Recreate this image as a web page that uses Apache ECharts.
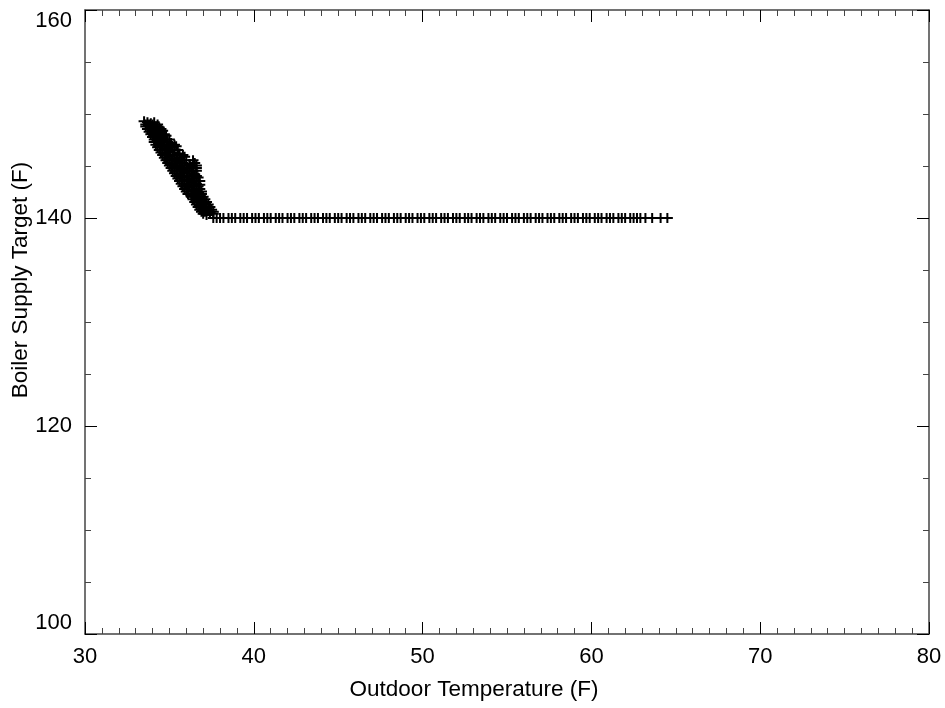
<!DOCTYPE html>
<html>
<head>
<meta charset="utf-8">
<script src="https://cdn.jsdelivr.net/npm/echarts@6/dist/echarts.min.js"></script>
<style>html,body{margin:0;padding:0;background:#fff;}#c{width:945px;height:708px;}</style>
</head>
<body>
<div id="c"></div>
<script>
// ---- data ----
var xTitle = 'Outdoor Temperature (F)';
var yTitle = 'Boiler Supply Target (F)';
var xTicks = [30, 40, 50, 60, 70, 80];
var yTicks = [100, 120, 140, 160];

// reset (sloped) part of the curve
var descentTemp = [
  33.5, 33.7, 33.9, 34.1,
  33.6, 33.8, 34.0, 34.2, 34.4,
  33.8, 34.0, 34.2, 34.4, 34.6,
  34.0, 34.2, 34.4, 34.6, 34.8,
  34.1, 34.4, 34.6, 34.9, 35.1,
  34.3, 34.6, 34.8, 35.1, 35.4,
  34.5, 34.8, 35.0, 35.3, 35.6,
  34.7, 35.0, 35.3, 35.6, 35.9,
  34.9, 35.2, 35.5, 35.8, 36.2, 36.5,
  35.1, 35.4, 35.7, 36.0, 36.3, 36.6,
  35.3, 35.6, 35.9, 36.2, 36.5,
  35.5, 35.8, 36.1, 36.4, 36.7,
  35.7, 36.0, 36.3, 36.6, 36.8,
  35.9, 36.2, 36.5, 36.8,
  36.1, 36.4, 36.7, 36.9,
  36.4, 36.6, 36.9, 37.1,
  36.6, 36.8, 37.1, 37.3,
  36.8, 37.1, 37.3, 37.5,
  37.0, 37.2, 37.4, 37.6,
  33.6, 33.8, 34.0, 34.3,
  33.7, 33.9, 34.1, 34.3, 34.5,
  33.9, 34.1, 34.3, 34.5, 34.7,
  34.1, 34.3, 34.5, 34.7, 35.0,
  34.2, 34.5, 34.7, 35.0, 35.3,
  34.4, 34.7, 34.9, 35.2, 35.5,
  34.6, 34.9, 35.2, 35.5, 35.8,
  34.8, 35.1, 35.4, 35.7, 36.0, 36.4,
  35.0, 35.3, 35.6, 35.9, 36.2, 36.6,
  35.2, 35.5, 35.8, 36.1, 36.4, 36.6,
  35.4, 35.7, 36.0, 36.3, 36.6,
  35.6, 35.9, 36.2, 36.5, 36.8,
  35.8, 36.1, 36.4, 36.7,
  36.0, 36.3, 36.6, 36.9,
  36.3, 36.5, 36.8, 37.0,
  36.5, 36.7, 37.0, 37.2,
  36.7, 37.0, 37.2, 37.4,
  36.9, 37.1, 37.4, 37.6
];
var descentTarget = [
  149.3, 149.2, 149.1, 149.2,
  148.8, 148.9, 148.7, 148.8, 148.7,
  148.3, 148.4, 148.2, 148.3, 148.4,
  147.8, 147.9, 147.7, 147.8, 147.9,
  147.3, 147.2, 147.4, 147.3, 147.2,
  146.8, 146.9, 146.7, 146.8, 146.9,
  146.3, 146.2, 146.4, 146.3, 146.2,
  145.8, 145.9, 145.7, 145.8, 145.9,
  145.3, 145.2, 145.4, 145.3, 145.2, 145.3,
  144.8, 144.9, 144.7, 144.8, 144.9, 144.8,
  144.3, 144.2, 144.4, 144.3, 144.2,
  143.8, 143.9, 143.7, 143.8, 143.9,
  143.3, 143.2, 143.4, 143.3, 143.2,
  142.8, 142.9, 142.7, 142.8,
  142.3, 142.2, 142.4, 142.3,
  141.8, 141.9, 141.7, 141.8,
  141.3, 141.2, 141.4, 141.3,
  140.8, 140.9, 140.7, 140.8,
  140.4, 140.3, 140.5, 140.4,
  149.0, 149.0, 149.0, 149.0,
  148.55, 148.55, 148.55, 148.55, 148.55,
  148.05, 148.05, 148.05, 148.05, 148.05,
  147.55, 147.55, 147.55, 147.55, 147.55,
  147.05, 147.05, 147.05, 147.05, 147.05,
  146.55, 146.55, 146.55, 146.55, 146.55,
  146.05, 146.05, 146.05, 146.05, 146.05,
  145.55, 145.55, 145.55, 145.55, 145.55, 145.55,
  145.05, 145.05, 145.05, 145.05, 145.05, 145.05,
  144.55, 144.55, 144.55, 144.55, 144.55, 144.55,
  144.05, 144.05, 144.05, 144.05, 144.05,
  143.55, 143.55, 143.55, 143.55, 143.55,
  143.05, 143.05, 143.05, 143.05,
  142.55, 142.55, 142.55, 142.55,
  142.05, 142.05, 142.05, 142.05,
  141.55, 141.55, 141.55, 141.55,
  141.05, 141.05, 141.05, 141.05,
  140.6, 140.6, 140.6, 140.6
];

// flat part of the curve (target held at 140 F)
var flatTarget = 140;
var flatTemp = [
  37.6, 37.8, 38.0, 38.2, 38.5, 38.7, 38.9, 39.2, 39.4, 39.6,
  39.9, 40.1, 40.3, 40.6, 40.8, 41.0, 41.3, 41.5, 41.7, 42.0,
  42.2, 42.4, 42.7, 42.9, 43.1, 43.4, 43.6, 43.8, 44.1, 44.3,
  44.5, 44.8, 45.0, 45.2, 45.5, 45.7, 45.9, 46.2, 46.4, 46.6,
  46.9, 47.1, 47.3, 47.6, 47.8, 48.0, 48.3, 48.5, 48.7, 49.0,
  49.2, 49.4, 49.7, 49.9, 50.1, 50.4, 50.6, 50.8, 51.1, 51.3,
  51.5, 51.8, 52.0, 52.2, 52.5, 52.7, 52.9, 53.2, 53.4, 53.6,
  53.9, 54.1, 54.3, 54.6, 54.8, 55.0, 55.3, 55.5, 55.7, 56.0,
  56.2, 56.4, 56.7, 56.9, 57.1, 57.4, 57.6, 57.8, 58.1, 58.3,
  58.5, 58.8, 59.0, 59.2, 59.5, 59.7, 59.9, 60.2, 60.4, 60.6,
  60.9, 61.1, 61.3, 61.6, 61.8, 62.0, 62.3, 62.5, 62.7, 62.9,
  63.2, 63.6, 64.1, 64.5
];

// ---- build ----
var pts = [];
for (var i = 0; i < descentTemp.length; i++) pts.push([descentTemp[i], descentTarget[i]]);
for (var j = 0; j < flatTemp.length; j++) pts.push([flatTemp[j], flatTarget]);

var FONT = 'Liberation Sans, Arial, sans-serif';
var plus = 'path://M0,4H11V6H0Z M4.5,0H6.5V10H4.5Z';

function xAx(pos, showLabel) {
  return {
    type: 'value', position: pos, min: xTicks[0], max: xTicks[xTicks.length - 1],
    interval: xTicks[1] - xTicks[0],
    axisLine: { show: true, onZero: false, lineStyle: { color: '#444', width: 1.5 } },
    axisTick: { show: true, inside: true, length: 12, lineStyle: { color: '#000', width: 1 } },
    minorTick: { show: true, splitNumber: 10, length: 6, lineStyle: { color: '#444', width: 1 } },
    splitLine: { show: false },
    axisLabel: { show: showLabel, color: '#000', fontFamily: FONT, fontSize: 22, margin: 12 }
  };
}
function yAx(pos, showLabel) {
  return {
    type: 'value', position: pos, min: yTicks[0], max: yTicks[yTicks.length - 1],
    interval: yTicks[1] - yTicks[0],
    axisLine: { show: true, onZero: false, lineStyle: { color: '#444', width: 1.5 } },
    axisTick: { show: true, inside: true, length: 12, lineStyle: { color: '#000', width: 1 } },
    minorTick: { show: true, splitNumber: 4, length: 6, lineStyle: { color: '#444', width: 1 } },
    splitLine: { show: false },
    axisLabel: { show: showLabel, color: '#000', fontFamily: FONT, fontSize: 22, margin: 13,
      verticalAlignMinLabel: 'bottom', verticalAlignMaxLabel: 'top' }
  };
}

var chart = echarts.init(document.getElementById('c'), null, { renderer: 'canvas' });
chart.setOption({
  backgroundColor: '#fff',
  animation: false,
  grid: { left: 85, right: 16, top: 10, bottom: 74, containLabel: false },
  xAxis: [xAx('bottom', true), xAx('top', false)],
  yAxis: [yAx('left', true), yAx('right', false)],
  graphic: [
    { type: 'text', x: 474, y: 690,
      style: { text: xTitle, fill: '#000', font: '22.5px ' + FONT, textAlign: 'center', textVerticalAlign: 'middle' } },
    { type: 'text', x: 21, y: 280, rotation: Math.PI / 2,
      style: { text: yTitle, fill: '#000', font: '22.5px ' + FONT, textAlign: 'center', textVerticalAlign: 'middle' } }
  ],
  series: [{
    type: 'scatter', xAxisIndex: 0, yAxisIndex: 0,
    symbol: plus, symbolSize: [11, 10],
    itemStyle: { color: '#000', opacity: 1 },
    data: pts
  }]
});
</script>
</body>
</html>
